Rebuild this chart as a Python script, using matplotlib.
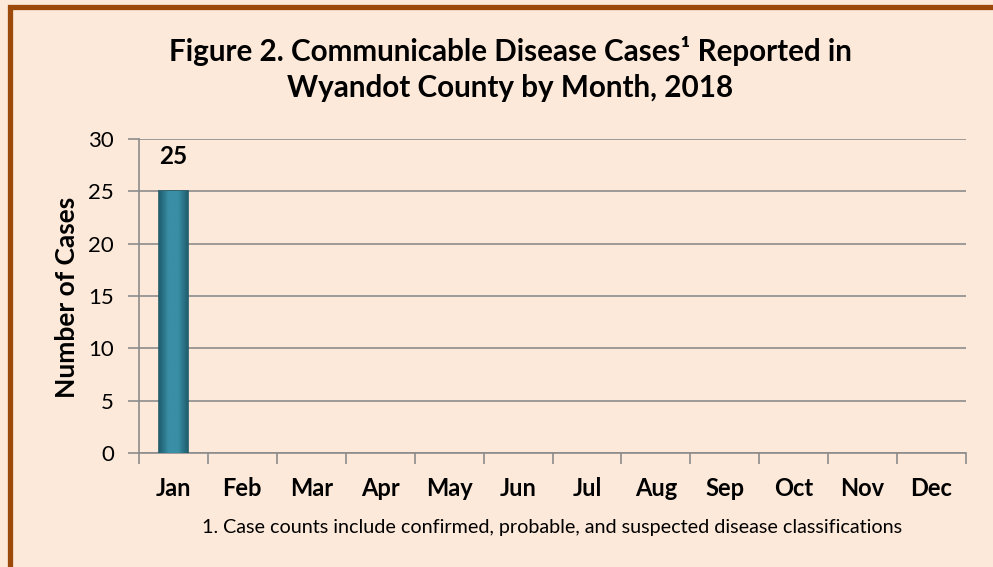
import matplotlib
matplotlib.use("Agg")
import matplotlib.pyplot as plt
import numpy as np
from matplotlib.patches import Rectangle
from matplotlib.colors import LinearSegmentedColormap

months = ["Jan", "Feb", "Mar", "Apr", "May", "Jun", "Jul", "Aug", "Sep", "Oct", "Nov", "Dec"]
cases = [25, 0, 0, 0, 0, 0, 0, 0, 0, 0, 0, 0]
yticks = [0, 5, 10, 15, 20, 25, 30]

title = "Figure 2. Communicable Disease Cases¹ Reported in\nWyandot County by Month, 2018"
ylabel = "Number of Cases"
footnote = "1. Case counts include confirmed, probable, and suspected disease classifications"

BG = "#FDE9D9"
BORDER = "#9C4A0B"
BAR = "#31849B"
BAR_EDGE = "#215968"
GRID = "#8C8C8C"
FONT = "Lato"

W, H = 993, 567
fig = plt.figure(figsize=(W / 100, H / 100), dpi=100)
fig.patch.set_facecolor(BG)

# border (top and left visible)
fig.patches.append(Rectangle((9.5 / W, 0 - 0.05), 1.2, 1 - 6.5 / H + 0.05,
                             transform=fig.transFigure, fill=False,
                             edgecolor=BORDER, linewidth=3.8, zorder=0))

ax = fig.add_axes([139 / W, 1 - 453.3 / H, (966 - 139) / W, (453.3 - 138.7) / H])
ax.set_facecolor(BG)

x = list(range(len(months)))
bars = ax.bar(x, cases, width=0.41, color=BAR, edgecolor=BAR_EDGE,
              linewidth=[1.2 if v > 0 else 0 for v in cases], zorder=3)

# bevelled look: horizontal gradient clipped to each bar
cmap = LinearSegmentedColormap.from_list("bevel", ["#1F5E6F", "#3A8FA6", "#3A8FA6", "#1F5E6F"])
grad = np.linspace(0, 1, 64).reshape(1, -1)
for b in bars:
    if b.get_height() > 0:
        x0, w, h = b.get_x(), b.get_width(), b.get_height()
        im = ax.imshow(grad, cmap=cmap, aspect="auto", extent=(x0, x0 + w, 0, h),
                       zorder=3.5, interpolation="bicubic")
        im.set_clip_path(b)
ax.set_aspect("auto")

for xi, v in zip(x, cases):
    if v > 0:
        ax.text(xi, v + 2.2, str(v), ha="center", va="bottom", fontsize=17.5,
                fontweight="bold", family=FONT, color="black")

ax.set_xlim(-0.5, len(months) - 0.5)
ax.set_ylim(0, 30)
ax.set_yticks(yticks)
ax.set_yticklabels([str(t) for t in yticks], fontsize=16, family=FONT)
ax.set_xticks(x)
ax.set_xticklabels(months, fontsize=17, fontweight="bold", family=FONT)
ax.set_xticks([i - 0.5 for i in range(len(months) + 1)], minor=True)
ax.tick_params(axis="x", which="major", length=0, pad=17)
ax.tick_params(axis="x", which="minor", length=8, width=1.2, color=GRID, direction="out")
ax.tick_params(axis="y", length=8, width=1.2, color=GRID, direction="out", pad=10)

ax.grid(axis="y", color=GRID, linewidth=1.2, zorder=0)
for s in ["top", "right"]:
    ax.spines[s].set_visible(False)
for s in ["left", "bottom"]:
    ax.spines[s].set_color(GRID)
    ax.spines[s].set_linewidth(1.2)

ax.set_ylabel(ylabel, fontsize=19, fontweight="bold", family=FONT, va="center")
ax.yaxis.set_label_coords((67 - 139) / 827, (453.3 - 297) / (453.3 - 138.7))

fig.text(510 / W, 1 - 69 / H, title, ha="center", va="center", fontsize=21.3,
         fontweight="bold", family=FONT, linespacing=1.33)
fig.text(552 / W, 1 - 527 / H, footnote, ha="center", va="center", fontsize=14.2,
         family=FONT)

fig.savefig("out.png", dpi=100, facecolor=BG)
